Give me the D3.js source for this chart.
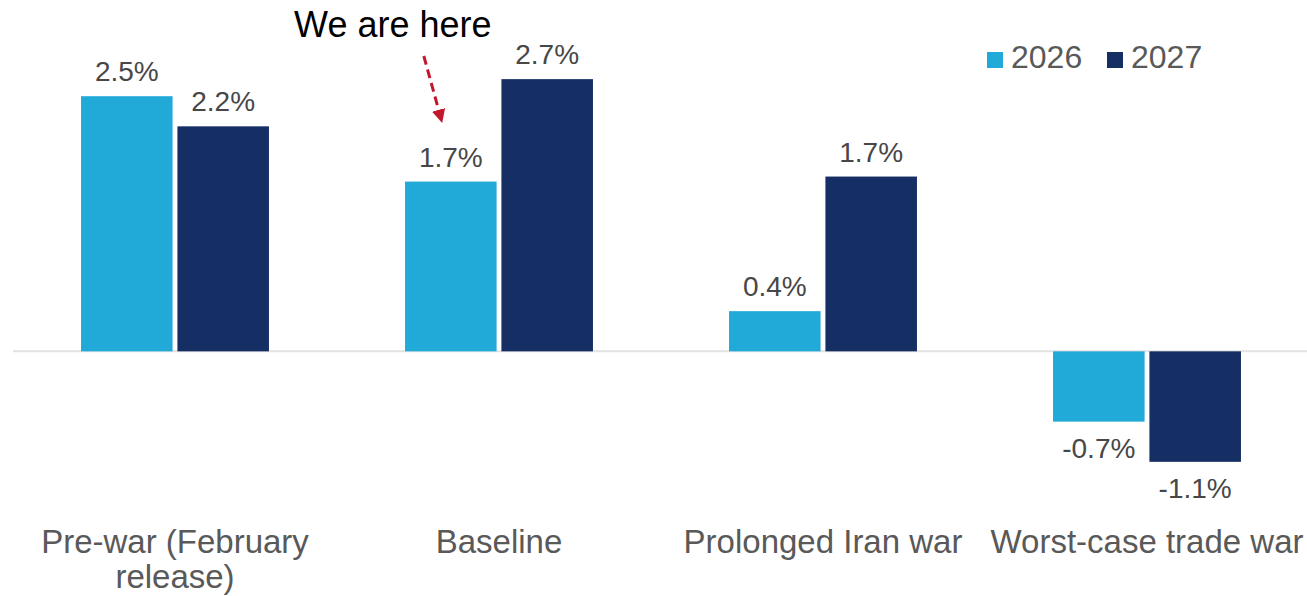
<!DOCTYPE html>
<html>
<head>
<meta charset="utf-8">
<script src="https://cdn.jsdelivr.net/npm/d3@7"></script>
<style>
    html, body { margin: 0; padding: 0; background: #ffffff; }
    svg { display: block; font-family: "Liberation Sans", Arial, sans-serif; }
</style>
</head>
<body>
<div id="chart"></div>
<script>
// categories and series
const categories = ["Pre-war (February\nrelease)", "Baseline", "Prolonged Iran war", "Worst-case trade war"];
const seriesKeys = ["2026", "2027"];
const values2026 = [2.54, 1.69, 0.40, -0.70];
const values2027 = [2.24, 2.71, 1.74, -1.10];
const yDomain = [-1.5, 3];

const colors = { "2026": "#21a9d8", "2027": "#152e63" };

const width = 1307;
const height = 596;
const margins = { top: 50, right: 0, bottom: 94, left: 13 };

const data = categories.map((c, i) => ({ name: c, "2026": values2026[i], "2027": values2027[i] }));

var svg = d3.select("div#chart")
    .append("svg")
    .attr("width", width)
    .attr("height", height)
    .attr("viewBox", [0, 0, width, height]);

var x = d3.scaleBand()
    .domain(categories)
    .range([margins.left, width + 2])
    .paddingInner(0.42)
    .paddingOuter(0.21);

var xSub = d3.scaleBand()
    .domain(seriesKeys)
    .range([0, x.bandwidth()])
    .paddingInner(0.05);

var y = d3.scaleLinear()
    .domain(yDomain)
    .range([height - margins.bottom, margins.top]);

/** zero line */
svg.append("line")
    .attr("x1", margins.left)
    .attr("x2", width)
    .attr("y1", y(0))
    .attr("y2", y(0))
    .attr("stroke", "#e2e2e2")
    .attr("stroke-width", 2);

/** bars */
var group = svg.selectAll("g.cat")
    .data(data)
    .join("g")
    .attr("class", "cat")
    .attr("transform", d => `translate(${x(d.name)},0)`);

var cells = group.selectAll("g.bar")
    .data(d => seriesKeys.map(k => ({ key: k, value: d[k] })))
    .join("g")
    .attr("class", "bar");

cells.append("rect")
    .attr("x", d => xSub(d.key))
    .attr("y", d => y(Math.max(0, d.value)))
    .attr("width", xSub.bandwidth())
    .attr("height", d => Math.abs(y(d.value) - y(0)))
    .attr("fill", d => colors[d.key]);

cells.append("text")
    .attr("x", d => xSub(d.key) + xSub.bandwidth() / 2)
    .attr("y", d => d.value >= 0 ? y(d.value) - 15 : y(d.value) + 36)
    .attr("text-anchor", "middle")
    .attr("font-size", 28)
    .attr("fill", "#474747")
    .text(d => d.value.toFixed(1) + "%");

/** category axis */
var gx = svg.append("g")
    .attr("transform", `translate(0,${y(0) + 169})`)
    .call(d3.axisBottom(x).tickSize(0).tickPadding(0))
    .call(g => g.select(".domain").remove());

gx.selectAll(".tick text")
    .attr("y", 0)
    .attr("dy", null)
    .attr("font-size", 33)
    .attr("font-family", "Liberation Sans, Arial, sans-serif")
    .attr("fill", "#595959")
    .each(function (d) {
        var t = d3.select(this).text(null);
        d.split("\n").forEach((line, i) => {
            t.append("tspan")
                .attr("x", 0)
                .attr("y", 33 + i * 35)
                .text(line);
        });
    });

/** legend */
var legend = svg.append("g")
    .attr("transform", "translate(987,52)");

var item = legend.selectAll("g")
    .data(seriesKeys)
    .join("g")
    .attr("transform", (_, i) => `translate(${i * 120},0)`);

item.append("rect")
    .attr("width", 16)
    .attr("height", 16)
    .attr("fill", d => colors[d]);

item.append("text")
    .attr("x", 24)
    .attr("y", 16)
    .attr("font-size", 32)
    .attr("fill", "#595959")
    .text(d => d);

/** annotation */
svg.append("defs")
    .append("marker")
    .attr("id", "arrow")
    .attr("viewBox", "0 0 10 10")
    .attr("refX", 9)
    .attr("refY", 5)
    .attr("markerWidth", 4.5)
    .attr("markerHeight", 4.5)
    .attr("orient", "auto")
    .append("path")
    .attr("d", "M0,0L10,5L0,10z")
    .attr("fill", "#c0182d");

var bx = x(categories[1]) + xSub("2026") + xSub.bandwidth() / 2;

svg.append("text")
    .attr("x", bx - 58)
    .attr("y", 37)
    .attr("text-anchor", "middle")
    .attr("font-size", 36)
    .attr("fill", "#000000")
    .text("We are here");

svg.append("path")
    .attr("d", d3.line()([[bx - 27, 56], [bx - 9, y(values2026[1]) - 60]]))
    .attr("stroke", "#c0182d")
    .attr("stroke-width", 3)
    .attr("stroke-dasharray", "9,5")
    .attr("fill", "none")
    .attr("marker-end", "url(#arrow)");
</script>
</body>
</html>
